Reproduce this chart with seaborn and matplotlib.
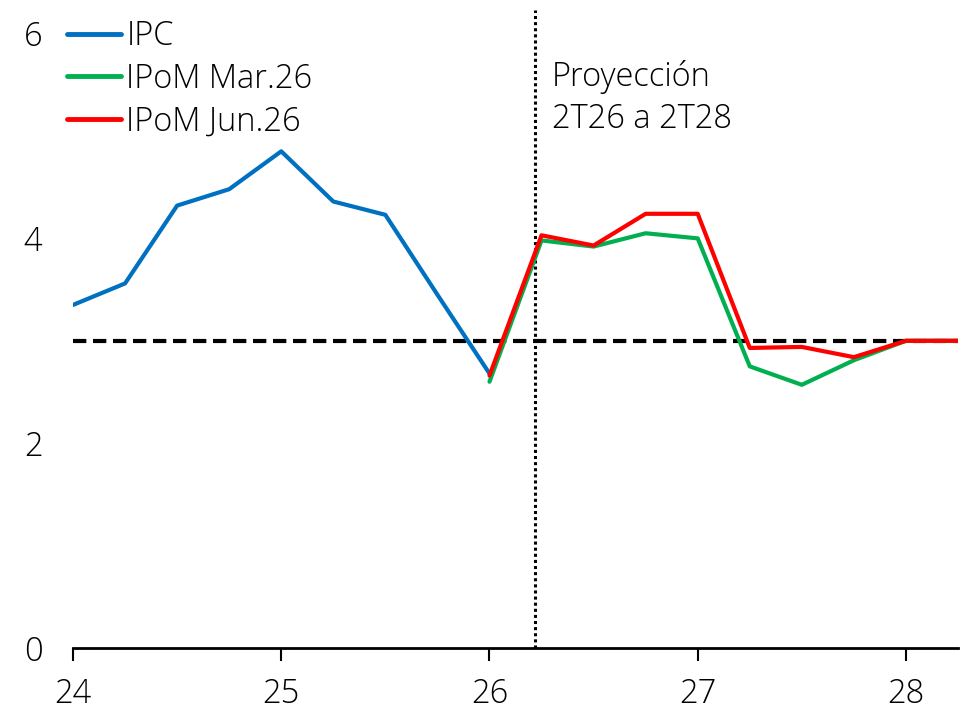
import numpy as np
import pandas as pd
import matplotlib
matplotlib.use("Agg")
import matplotlib.pyplot as plt
import seaborn as sns

# Data
ipc_x = [24.0, 24.25, 24.5, 24.75, 25.0, 25.25, 25.5, 25.75, 26.0]
ipc_y = [3.35, 3.56, 4.32, 4.48, 4.85, 4.36, 4.23, 3.45, 2.68]
proj_x = [26.0, 26.25, 26.5, 26.75, 27.0, 27.25, 27.5, 27.75, 28.0, 28.25]
mar_y = [2.60, 3.98, 3.92, 4.05, 4.00, 2.75, 2.57, 2.81, 3.00, 3.00]
jun_y = [2.66, 4.03, 3.93, 4.24, 4.24, 2.93, 2.94, 2.84, 3.00, 3.00]
series_names = ["IPC", "IPoM Mar.26", "IPoM Jun.26"]
colors = ["#0070C0", "#00B050", "#FF0000"]
target = 3.0
proj_start = 26.22
xticks = [24, 25, 26, 27, 28]
yticks = [0, 2, 4, 6]
annot_lines = ["Proyección", "2T26 a 2T28"]

df = pd.concat([
    pd.DataFrame({"x": ipc_x, "y": ipc_y, "serie": series_names[0]}),
    pd.DataFrame({"x": proj_x, "y": mar_y, "serie": series_names[1]}),
    pd.DataFrame({"x": proj_x, "y": jun_y, "serie": series_names[2]}),
])

sns.set_style("white")
plt.rcParams["font.family"] = ["Open Sans", "DejaVu Sans"]
plt.rcParams["font.weight"] = "light"
plt.rcParams["text.color"] = "black"
plt.rcParams["xtick.color"] = "black"
plt.rcParams["ytick.color"] = "black"

FS = 23.5

fig = plt.figure(figsize=(9.62, 7.09), dpi=100)
ax = fig.add_axes([73 / 962, 61 / 709, 885 / 962, 638 / 709])

ax.axhline(target, color="black", lw=3, ls=(0, (3.2, 1.6)), zorder=1)
ax.axvline(proj_start, color="black", lw=2.2, ls=(0, (1, 1)), zorder=1)

sns.lineplot(data=df, x="x", y="y", hue="serie", palette=dict(zip(series_names, colors)),
             hue_order=series_names, lw=3, ax=ax, zorder=3, legend=True)

ax.set_xlim(24, 28.25)
ax.set_ylim(0, 6.23)
ax.set_xticks(xticks)
ax.set_xticklabels([str(t) for t in xticks])
ax.set_yticks(yticks)
ax.set_yticklabels([str(t) for t in yticks])
ax.set_xlabel("")
ax.set_ylabel("")
for s in ["top", "right", "left"]:
    ax.spines[s].set_visible(False)
ax.spines["bottom"].set_color("black")
ax.spines["bottom"].set_linewidth(2)
ax.tick_params(axis="x", direction="out", length=9, width=1.5, color="black",
               labelsize=FS, pad=12, bottom=True)
ax.tick_params(axis="y", length=0, labelsize=FS, pad=22)

ax.text(26.3, 5.58, annot_lines[0], fontsize=FS, va="center", ha="left")
ax.text(26.3, 5.16, annot_lines[1], fontsize=FS, va="center", ha="left")

leg = ax.legend(loc="upper left", bbox_to_anchor=(-0.0068, 0.985), frameon=False,
                fontsize=FS, handlelength=1.65, handletextpad=0.17, labelspacing=0.28,
                borderaxespad=0, borderpad=0)
for h in leg.get_lines():
    h.set_linewidth(3.5)

fig.savefig("out.png", dpi=100)
